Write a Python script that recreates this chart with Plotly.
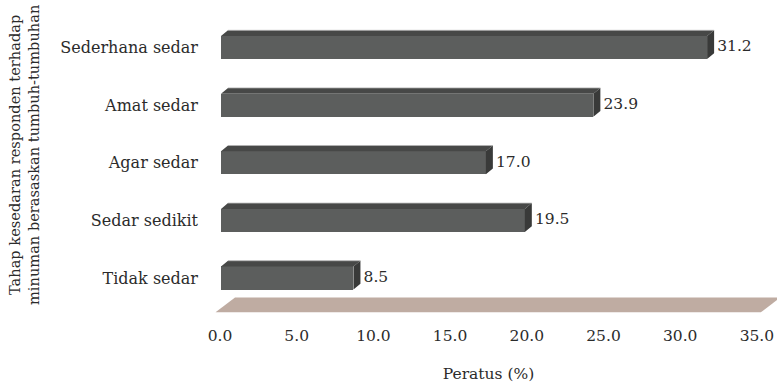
import plotly.graph_objects as go

# ---- data ----
categories = ["Tidak sedar", "Sedar sedikit", "Agar sedar", "Amat sedar", "Sederhana sedar"]
values = [8.5, 19.5, 17.0, 23.9, 31.2]
tick_values = [0, 5, 10, 15, 20, 25, 30, 35]
x_title = "Peratus (%)"
y_title = "Tahap kesedaran responden terhadap<br>minuman berasaskan tumbuh-tumbuhan"

# ---- style / geometry ----
FONT = "DejaVu Serif"
TXT = "#2b2b2b"
FRONT = "#5c5e5d"
TOP = "#474847"
SIDE = "#393a39"
EDGE = "#b4b4b4"
FLOOR = "#bfaca2"
BAR_W = 0.4          # bar thickness in category units
DX, DY = 0.45, 0.1   # 3D depth offset (x units, category units)

W, H = 777, 386
L, R, T, B = 200, 0, 0, 62
plot_w = W - L - R
plot_h = H - T - B

pos = list(range(len(categories)))

fig = go.Figure()

# floor
fx0, fx1 = tick_values[0], tick_values[-1]
fig.add_trace(go.Scatter(
    x=[fx0 - 0.35, fx1 - 0.35, fx1 + 0.9, fx0 + 0.9, fx0 - 0.35],
    y=[-0.595, -0.595, -0.339, -0.339, -0.595],
    fill="toself", fillcolor=FLOOR, mode="lines", line=dict(width=0),
    hoverinfo="skip", showlegend=False))

# front faces
fig.add_trace(go.Bar(
    x=values, y=pos, orientation="h", width=BAR_W, base=0,
    marker=dict(color=FRONT, line=dict(width=0)), showlegend=False))

# top faces and side faces
tx, ty, sx, sy, ex, ey = [], [], [], [], [], []
for v, p in zip(values, pos):
    top = p + BAR_W / 2
    bot = p - BAR_W / 2
    tx += [0, DX, v + DX, v, 0, None]
    ty += [top, top + DY, top + DY, top, top, None]
    sx += [v, v + DX, v + DX, v, v, None]
    sy += [top, top + DY, bot + DY, bot, top, None]
    ex += [DX, v + DX, None]
    ey += [top + DY, top + DY, None]
fig.add_trace(go.Scatter(x=tx, y=ty, fill="toself", fillcolor=TOP, mode="lines",
                         line=dict(width=0), hoverinfo="skip", showlegend=False))
fig.add_trace(go.Scatter(x=sx, y=sy, fill="toself", fillcolor=SIDE, mode="lines",
                         line=dict(width=0), hoverinfo="skip", showlegend=False))
fig.add_trace(go.Scatter(x=ex, y=ey, mode="lines", line=dict(width=0.8, color=EDGE),
                         hoverinfo="skip", showlegend=False))

# value labels
fig.add_trace(go.Scatter(
    x=[v + DX + 0.2 for v in values], y=pos, mode="text",
    text=[f"{v:.1f}" for v in values], textposition="middle right",
    textfont=dict(family=FONT, size=15.5, color=TXT),
    hoverinfo="skip", showlegend=False))

# invisible trace for the tick-label axis
fig.add_trace(go.Scatter(x=[tick_values[0]], y=[0], xaxis="x2", mode="markers",
                         marker=dict(opacity=0), hoverinfo="skip", showlegend=False))

PX_BAR = 15.58   # px per unit at bar front plane
PX_TICK = 15.34  # px per unit at tick plane
x0_bar = 221 - L
x0_tick = 220 - L
PX_Y = 57.6
y0_pix = 278  # pixel of category 0

fig.update_layout(
    width=W, height=H, margin=dict(l=L, r=R, t=T, b=B),
    paper_bgcolor="white", plot_bgcolor="white",
    bargap=0,
    xaxis=dict(range=[-x0_bar / PX_BAR, (plot_w - x0_bar) / PX_BAR],
               visible=False, fixedrange=True),
    xaxis2=dict(range=[-x0_tick / PX_TICK, (plot_w - x0_tick) / PX_TICK],
                overlaying="x", side="bottom", anchor="y",
                tickvals=tick_values, tickformat=".1f",
                showgrid=False, zeroline=False, showline=False, ticks="",
                tickfont=dict(family=FONT, size=15.5, color=TXT),
                ticklabelstandoff=0,
                title=dict(text=x_title, font=dict(family=FONT, size=15.5, color=TXT),
                           standoff=24)),
    yaxis=dict(range=[(y0_pix - (T + plot_h)) / PX_Y, (y0_pix - T) / PX_Y],
               tickvals=pos, ticktext=categories,
               showgrid=False, zeroline=False, showline=False, ticks="",
               tickfont=dict(family=FONT, size=16, color=TXT),
               ticklabelstandoff=1),
    annotations=[dict(
        text=y_title, textangle=-90, showarrow=False,
        xref="paper", yref="paper",
        x=(24 - L) / plot_w, y=(T + plot_h - 155) / plot_h,
        xanchor="center", yanchor="middle",
        font=dict(family=FONT, size=14.6, color=TXT))],
)

fig.write_html("out.html")
